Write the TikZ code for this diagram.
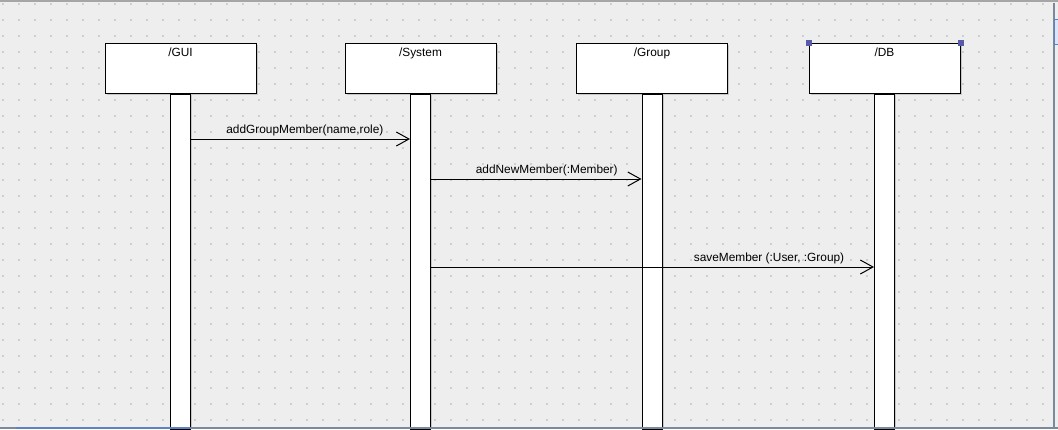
\documentclass[tikz,border=0pt]{standalone}
\usepackage{fontspec}
\setmainfont{Liberation Sans}
\usetikzlibrary{arrows.meta,shadows}

\definecolor{canvasgray}{HTML}{EEEEEE}
\definecolor{dotgray}{HTML}{CFCFCF}
\definecolor{framegray}{HTML}{7A8A9A}
\definecolor{selblue}{HTML}{6080C0}
\definecolor{selfill}{HTML}{DDE6F8}
\definecolor{handleblue}{HTML}{5A5AAA}

\tikzset{
	objbox/.style={draw=black, line width=0.75pt, fill=white, minimum width=113.25pt, minimum height=37.5pt, inner sep=0pt,
		general shadow={fill=black!22, shadow xshift=1.2pt, shadow yshift=-1.2pt}},
	lifebar/.style={draw=black, line width=0.75pt, fill=white, minimum width=15pt, minimum height=251.25pt, inner sep=0pt, anchor=north,
		general shadow={fill=black!22, shadow xshift=1.2pt, shadow yshift=0pt}},
	title/.style={anchor=base, yshift=-10.5pt, inner sep=0pt},
	msg/.style={line width=0.75pt, -{Straight Barb[length=9.5pt,width=10.5pt,line width=0.75pt]}},
	msglabel/.style={anchor=base, yshift=4.2pt, inner sep=0pt},
	handlesq/.style={fill=handleblue, minimum size=4.5pt, inner sep=0pt},
}

\begin{document}
\begin{tikzpicture}[x=0.75pt, y=-0.75pt, font=\fontsize{8.9}{10}\selectfont]
			%%%%% CANVAS %%%%%
			\useasboundingbox (0,0) rectangle (1058,429);
			\fill[canvasgray] (0,0) rectangle (1058,429);
			\foreach \x in {3,19,...,1051}
				\foreach \y in {4,20,...,420}
					\fill[dotgray] (\x-1,\y-1) rectangle +(2,2);
			
			%%%%% OBJECTS %%%%%
			\node[objbox, label={[title]north:/GUI}] (gui) at (180.5,68) {};
			\node[objbox, label={[title]north:/System}] (sys) at (420.5,68) {};
			\node[objbox, label={[title]north:/Group}] (grp) at (652,68) {};
			\node[objbox, label={[title]north:/DB}] (db) at (884.5,68) {};
			
			\node[lifebar] (guiL) at (gui.south) {};
			\node[lifebar] (sysL) at (sys.south) {};
			\node[lifebar] (grpL) at (grp.south) {};
			\node[lifebar] (dbL) at (db.south) {};
			
			\node[handlesq] (dbSelA) at (db.north west) {};
			\node[handlesq] (dbSelB) at (db.north east) {};
			
			%%%%% MESSAGES %%%%%
			\coordinate (m1) at (0,139);
			\coordinate (m2) at (0,179);
			\coordinate (m3) at (0,267);
			
			\draw[msg] (guiL.east |- m1) -- node[msglabel, pos=0.52] {addGroupMember(name,role)} (sysL.west |- m1);
			\draw[msg] (sysL.east |- m2) -- node[msglabel, pos=0.55] {addNewMember(:Member)} (grpL.west |- m2);
			\draw[msg] (sysL.east |- m3) -- node[msglabel, pos=0.763] {saveMember (:User, :Group)} (dbL.west |- m3);
			
			%%%%% FRAME %%%%%
			\draw[black!35, line width=1.5pt] (0,1) -- (1058,1);
			\fill[canvasgray] (1055,3) rectangle (1058,429);
			\draw[framegray, line width=1.5pt] (1054,3) -- (1054,429);
			\draw[selblue, fill=selfill, line width=0.75pt] (1054.5,19) rectangle (1059,44);
			\draw[framegray, line width=1.5pt] (0,428) -- (1058,428);
			\draw[selblue, line width=1.5pt] (16,428) -- (190,428);
		\end{tikzpicture}
\end{document}
